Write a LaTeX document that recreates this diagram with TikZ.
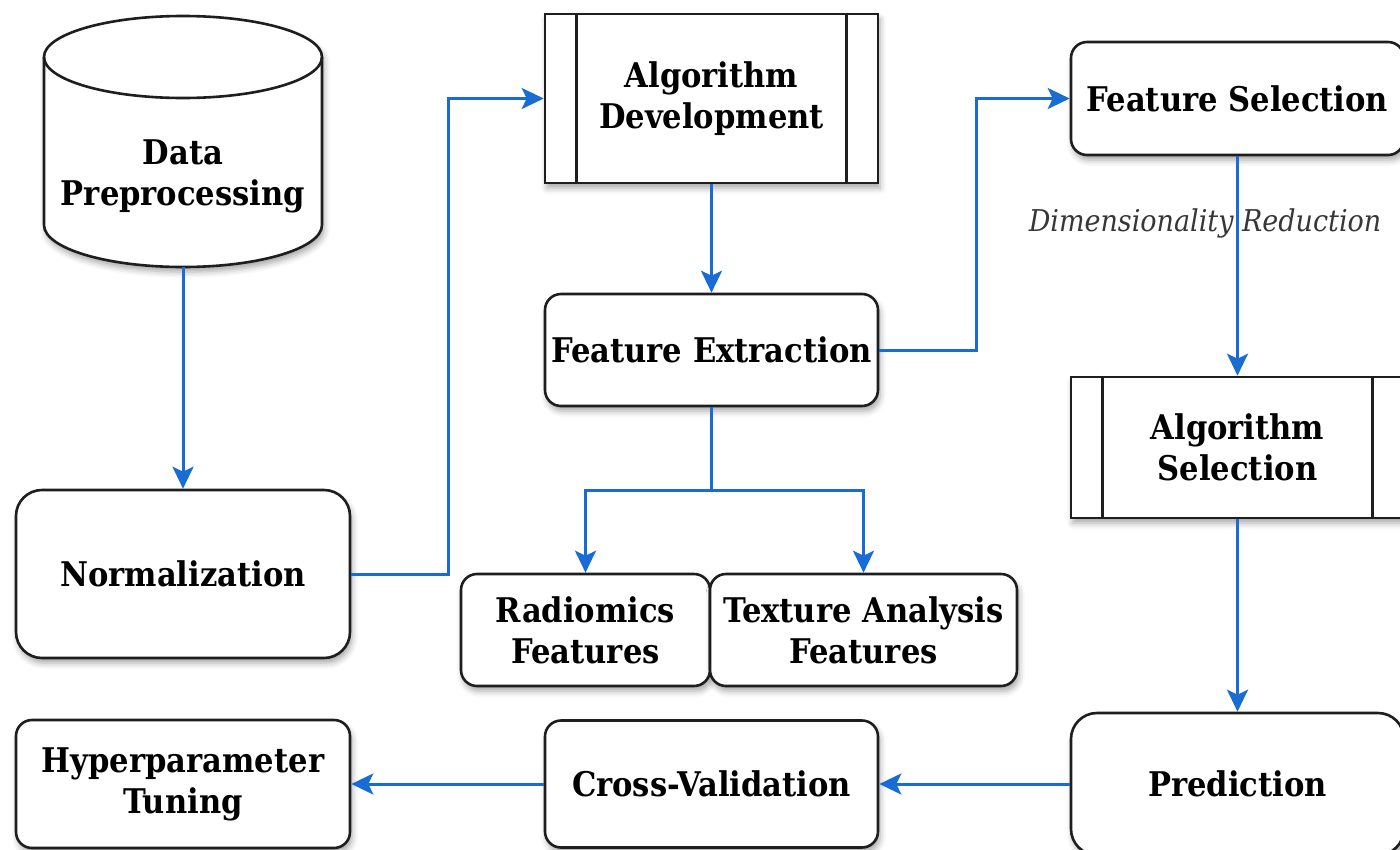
\documentclass[tikz,border=0pt]{standalone}
\usepackage{fontspec}
\setmainfont{DejaVu Serif Condensed}
\usetikzlibrary{shadows.blur,arrows.meta}
\definecolor{flow}{RGB}{24,108,212}
\definecolor{edge}{RGB}{30,30,30}
\definecolor{lbl}{RGB}{55,55,55}

\begin{document}
\begin{tikzpicture}[x=1pt,y=-1pt,
  shade/.style={blur shadow={shadow xshift=2pt,shadow yshift=-5pt,shadow blur radius=6pt,shadow opacity=35}},
  base/.style={draw=edge,line width=2.6pt,fill=white,align=center,inner sep=0pt,shade,
    font=\fontsize{34}{41}\selectfont\bfseries},
  roundbox/.style={base,rounded corners=16pt},
  biground/.style={base,rounded corners=26pt},
  procbox/.style={base},
  flowline/.style={draw=flow,line width=3pt,-{Stealth[length=22pt,width=21pt,inset=5pt]}},
  plainflow/.style={draw=flow,line width=3pt},
  dimlabel/.style={font=\fontsize{30}{34}\selectfont\itshape,text=lbl,inner sep=0pt}]

\useasboundingbox (0,0) rectangle (1400,849);
\clip (0,0) rectangle (1400,849);

% data store drawn as a cylinder
\fill[white,shade] (44,57) -- (44,225)
  arc[start angle=180,end angle=360,x radius=139pt,y radius=42pt]
  -- (322,57) arc[start angle=0,end angle=180,x radius=139pt,y radius=41pt] -- cycle;
\draw[edge,line width=2.6pt] (44,57) -- (44,225)
  arc[start angle=180,end angle=360,x radius=139pt,y radius=42pt]
  -- (322,57) arc[start angle=0,end angle=180,x radius=139pt,y radius=41pt] -- cycle;
\draw[edge,line width=2.6pt] (44,57) arc[start angle=180,end angle=360,x radius=139pt,y radius=41pt];
\node[align=center,inner sep=0pt,font=\fontsize{34}{41}\selectfont\bfseries] (dptext) at (183,176) {Data\\Preprocessing};
\coordinate (dp) at (183,267);

% main boxes
\node[biground,minimum width=334pt,minimum height=168pt] (norm) at (183,574) {Normalization};
\node[procbox,minimum width=333pt,minimum height=169pt] (algdev) at (711.5,98.5) {Algorithm\\Development};
\node[roundbox,minimum width=333pt,minimum height=112pt] (fe) at (711.5,350) {Feature Extraction};
\node[roundbox,minimum width=333pt,minimum height=113pt] (fs) at (1237.5,98.5) {Feature Selection};
\node[procbox,minimum width=333pt,minimum height=141pt] (algsel) at (1237.5,447.5) {Algorithm\\Selection};
\node[biground,minimum width=333pt,minimum height=142pt] (pred) at (1237.5,784) {Prediction};
\node[roundbox,minimum width=333pt,minimum height=127pt] (cv) at (711.5,784) {Cross-Validation};
\node[roundbox,minimum width=334pt,minimum height=128pt] (hyper) at (183,784) {Hyperparameter\\Tuning};
\node[roundbox,minimum width=249pt,minimum height=112pt] (rad) at (585.5,630) {Radiomics\\Features};
\node[roundbox,minimum width=307pt,minimum height=112pt] (tex) at (863.5,630) {Texture Analysis\\Features};

% side bars of the process boxes
\foreach \b in {algdev,algsel}{
  \draw[edge,line width=2.6pt] ([xshift=33pt]\b.north west) -- ([xshift=33pt]\b.south west);
  \draw[edge,line width=2.6pt] ([xshift=-33pt]\b.north east) -- ([xshift=-33pt]\b.south east);
}

% connectors
\draw[flowline] (dp) -- (norm.north);
\draw[flowline] (norm.east) -- ++(97,0) |- (algdev.west);
\draw[flowline] (algdev.south) -- (fe.north);
\draw[flowline] (fe.east) -- ++(97,0) |- (fs.west);
\draw[flowline] (fs.south) -- (algsel.north);
\node[dimlabel] (dr) at (1205,223) {Dimensionality Reduction};
\draw[flowline] (algsel.south) -- (pred.north);
\draw[flowline] (pred.west) -- (cv.east);
\draw[flowline] (cv.west) -- (hyper.east);
\coordinate (split) at (711.5,490);
\draw[plainflow] (fe.south) -- (split);
\draw[flowline] (split) -| (rad.north);
\draw[flowline] (split) -| (tex.north);
\end{tikzpicture}
\end{document}
